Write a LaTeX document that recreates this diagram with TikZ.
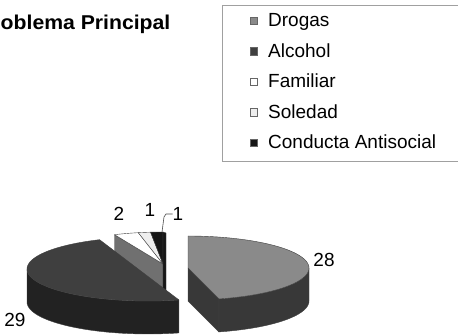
\documentclass[tikz,border=0pt]{standalone}
\usepackage{fontspec}
\setmainfont{Liberation Sans}
\definecolor{drogTop}{HTML}{8A8A8A}
\definecolor{drogSide}{HTML}{383838}
\definecolor{alcTop}{HTML}{3F3F3F}
\definecolor{alcSide}{HTML}{222222}
\definecolor{famSide}{HTML}{707070}
\definecolor{solTop}{HTML}{EEEEEE}
\definecolor{condTop}{HTML}{161616}
\definecolor{boxLine}{HTML}{A0A0A0}
\begin{document}
\begin{tikzpicture}[x=1pt,y=-1pt,
  slice/.style={draw=black!75,line width=0.4pt,line join=round},
  legtext/.style={anchor=base west,inner sep=0pt,font=\fontsize{19}{22}\selectfont},
  legmark/.style={minimum size=7.5pt,inner sep=0pt,draw=black!60,line width=0.4pt},
  lbl/.style={inner sep=0pt,font=\fontsize{19}{22}\selectfont}]
\useasboundingbox (0,0) rectangle (458,336);
\fill[white] (0,0) rectangle (458,336);

% title (cropped in the original)
\node[anchor=base west,inner sep=0pt,font=\bfseries\fontsize{20}{24}\selectfont,xscale=1.06] (title) at (0.5,30) {oblema Principal};

% legend frame (right side cut off)
\draw[boxLine,line width=0.8pt] (458,5) -- (222,5) -- (222,161) -- (458,161);
\node[legmark,fill=drogTop] (mDrogas) at (253.5,20.5) {};
\node[legmark,fill=alcTop] (mAlcohol) at (253.5,51) {};
\node[legmark,fill=white] (mFamiliar) at (253.5,81.5) {};
\node[legmark,fill=solTop] (mSoledad) at (253.5,112) {};
\node[legmark,fill=condTop] (mConducta) at (253.5,142.5) {};
\node[legtext] (tDrogas) at (268,27) {Drogas};
\node[legtext] (tAlcohol) at (268,57.5) {Alcohol};
\node[legtext] (tFamiliar) at (268,88) {Familiar};
\node[legtext] (tSoledad) at (268,118.5) {Soledad};
\node[legtext] (tConducta) at (268,149) {Conducta Antisocial};

% ---- small slices (apex 163,264) ----
\filldraw[slice,fill=famSide] (163,264) -- (114.5,234.7) -- (114.5,267.7) -- (163,297) -- cycle;
\filldraw[slice,fill=white] (163,264) -- plot[domain=246.4:258.2,samples=8,variable=\t] ({163+121*cos(\t)},{264+32*sin(\t)}) -- cycle;
\filldraw[slice,fill=solTop] (163,264) -- plot[domain=258.2:264.1,samples=5,variable=\t] ({163+121*cos(\t)},{264+32*sin(\t)}) -- cycle;
\filldraw[slice,fill=condTop] (163,264) -- plot[domain=264.1:270,samples=5,variable=\t] ({163+121*cos(\t)},{264+32*sin(\t)}) -- cycle;
\filldraw[slice,fill=condTop] (163,232) -- (166,233) -- (166,292) -- (163,296) -- cycle;

% ---- Alcohol ----
\filldraw[slice,fill=alcSide] plot[domain=75.2:180,samples=40,variable=\t] ({148+121*cos(\t)},{269+32*sin(\t)})
  -- plot[domain=180:75.2,samples=40,variable=\t] ({148+121*cos(\t)},{302+32*sin(\t)}) -- cycle;
\filldraw[slice,fill=alcTop] plot[domain=75.2:246.4,samples=60,variable=\t] ({148+121*cos(\t)},{269+32*sin(\t)}) -- cycle;

% ---- Drogas (apex 188,268) ----
\filldraw[slice,fill=drogSide] plot[domain=0:75.2,samples=30,variable=\t] ({188+121*cos(\t)},{268+32*sin(\t)})
  -- plot[domain=75.2:0,samples=30,variable=\t] ({188+121*cos(\t)},{301+32*sin(\t)}) -- cycle;
\filldraw[slice,fill=drogSide] (188,268) -- (218.9,298.9) -- (218.9,331.9) -- (188,301) -- cycle;
\filldraw[slice,fill=drogTop] (188,268) -- plot[domain=-90:75.2,samples=60,variable=\t] ({188+121*cos(\t)},{268+32*sin(\t)}) -- cycle;

% ---- value labels ----
\node[lbl] (l28) at (324,260) {28};
\node[lbl] (l29) at (15,320) {29};
\node[lbl] (l2) at (119,214) {2};
\node[lbl] (l1a) at (150,210) {1};
\node[lbl] (l1b) at (178,214) {1};
\coordinate (ldr) at (162,232);
\draw[black!70,line width=0.6pt] (ldr) -- (164,217) -- (166,214) -- (l1b.west);
\end{tikzpicture}
\end{document}
